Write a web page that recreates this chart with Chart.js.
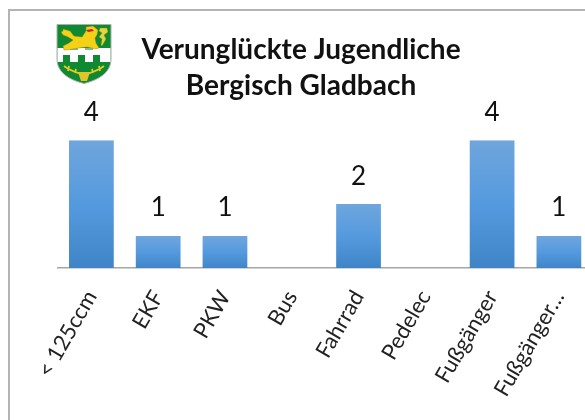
<!DOCTYPE html>
<html><head><meta charset="utf-8">
<script src="https://cdn.jsdelivr.net/npm/chart.js@4"></script>
<style>
html,body{margin:0;padding:0;background:#fff;width:585px;height:420px;overflow:hidden}
#wrap{position:relative;width:585px;height:420px;overflow:hidden}
#frame{position:absolute;left:8px;top:9px;width:600px;height:430px;border:2px solid #b4b4b4;box-sizing:border-box}
canvas{position:absolute;left:0;top:0}
#crest{position:absolute;left:56px;top:23px;width:56px;height:62px}
</style></head><body>
<div id="wrap">
<div id="frame"></div>
<canvas id="c" width="600" height="420" style="width:600px;height:420px"></canvas>
<svg id="crest" viewBox="0 0 56 62">
<path d="M1 1.5H55V36C55 50 42 57 28 60.5C14 57 1 50 1 36Z" fill="#0f8a33" stroke="#a9b0a9" stroke-width="1"/>
<path d="M1.5 25H54.5V39H1.5Z" fill="#fff"/>
<path d="M7 32h7v7H7zM22 32h7v7h-7zM37 32h7v7h-7z" fill="#0f8a33"/>
<path d="M14 25h8v2h-8zM29 25h8v2h-8z" fill="#0f8a33" opacity=".55"/>
<path d="M7 6l7 2 4 5 8 1 4-6 0-4 7-1 5 4-1 5-2 3 1 5 3 5-3 1-9-2-8 1-6 1-7 1-2 0-1-4 6-3 4-3-5-3-5-2-2-3 2-1z" fill="#f2d117" stroke="#8a7a10" stroke-width=".4"/>
<path d="M30 7l6-1 2 2-6 1z" fill="#c8202a"/>
<path d="M44 5h7l1 4-4 3 2 4-4 7-1-1 1-6-3-2 3-4-3-2z" fill="#e6d43a" stroke="#6d8a20" stroke-width=".4"/>
<path d="M8 43c5 4 11 6 17 8M48 43c-5 4-11 6-17 8M13 43l-1 5M20 46l-1 4M43 43l1 5M36 46l1 4" fill="none" stroke="#e8c81c" stroke-width="1.8"/>
<path d="M22 49h12l-3 9h-6z" fill="#e0c42a"/>
</svg>
</div>
<script>
const categories = ['< 125ccm','EKF','PKW','Bus','Fahrrad','Pedelec','Fußgänger','Fußgänger…'];
const values = [4,1,1,0,2,0,4,1];
const titleLines = ['Verunglückte Jugendliche','Bergisch Gladbach'];

const barLabels = {
  id:'barLabels',
  afterDatasetsDraw(chart){
    const {ctx} = chart;
    const meta = chart.getDatasetMeta(0);
    ctx.save();
    ctx.font = '26px Lato';
    ctx.fillStyle = '#111';
    ctx.textAlign = 'center';
    ctx.textBaseline = 'middle';
    meta.data.forEach((el,i)=>{
      if(values[i] > 0) ctx.fillText(String(values[i]), el.x, el.y - 28);
    });
    ctx.restore();
  }
};

function barFill(c){
  const chart = c.chart;
  if(c.type !== 'data') return '#5b9bd5';
  const y = chart.scales.y;
  if(!y || y.top === undefined) return '#5b9bd5';
  const top = y.getPixelForValue(c.raw);
  const bottom = y.getPixelForValue(0);
  if(!isFinite(top) || top === bottom) return '#5b9bd5';
  const g = chart.ctx.createLinearGradient(0, top, 0, bottom);
  g.addColorStop(0, '#6fa6dd');
  g.addColorStop(0.5, '#559ade');
  g.addColorStop(1, '#3f85c6');
  return g;
}

new Chart(document.getElementById('c'), {
  type:'bar',
  plugins:[barLabels],
  data:{labels:categories, datasets:[{data:values, backgroundColor:barFill, borderWidth:0, barPercentage:1, categoryPercentage:0.67}]},
  options:{
    responsive:false, animation:false,
    layout:{padding:{left:6,right:4,top:0,bottom:0}},
    plugins:{
      legend:{display:false}, tooltip:{enabled:false},
      title:{display:true, text:titleLines, color:'#111', align:'center',
        font:{family:'Lato',size:28,weight:'bold',lineHeight:1.29}, padding:{top:32,bottom:36}}
    },
    scales:{
      x:{
        grid:{display:false, drawTicks:false},
        border:{color:'#a6a6a6',width:1.5},
        afterFit(s){ s.height = 152; },
        ticks:{color:'#222',font:{family:'Lato',size:22},minRotation:60,maxRotation:60,autoSkip:false,padding:18}
      },
      y:{min:0,max:4,grid:{display:false,drawTicks:false},border:{display:false},ticks:{display:false},afterFit(s){ s.width = 52; }}
    }
  }
});
</script>
</body></html>
